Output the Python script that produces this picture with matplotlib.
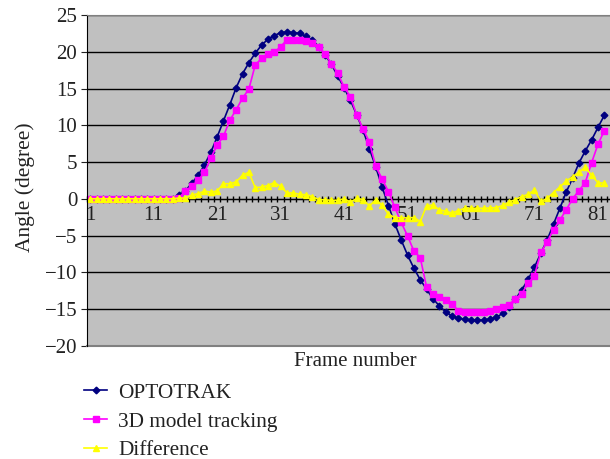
import matplotlib.pyplot as plt
import numpy as np

# frame numbers shown in the picture (the right edge is cut off after 82)
frames = np.arange(1, 83)

optotrak = [0, 0, 0, 0, 0, 0, 0, 0, 0, 0, 0, 0, 0, 0,
            0.5, 1.1, 2.1, 3.2, 4.6, 6.3, 8.4, 10.6, 12.8, 15.1, 17.0, 18.5, 19.8,
            20.9, 21.7, 22.2, 22.6, 22.7, 22.6, 22.5, 22.1,
            21.6, 20.7, 19.6, 18.3, 16.7, 15.1, 13.4, 11.4, 9.3, 6.8, 4.3, 1.6,
            -0.95, -3.4, -5.6, -7.65, -9.45, -11.0, -12.3, -13.6, -14.55, -15.4,
            -15.95, -16.25, -16.4, -16.5, -16.5, -16.5, -16.35, -16.1, -15.6, -14.7,
            -13.65, -12.4, -10.96, -9.3, -7.4, -5.6, -3.45, -1.3, 0.9, 2.8, 4.85,
            6.5, 8.0, 9.7, 11.35]

model = [0, 0, 0, 0, 0, 0, 0, 0, 0, 0, 0, 0, 0, 0,
         0.1, 1.05, 1.7, 2.5, 3.6, 5.5, 7.3, 8.5, 10.7, 12.1, 13.7, 14.9, 18.2,
         19.1, 19.7, 19.9, 20.7, 21.6, 21.6, 21.6, 21.5,
         21.2, 20.6, 19.7, 18.4, 17.1, 15.2, 13.9, 11.4, 9.5, 7.7, 4.4, 2.7,
         0.95, -1.15, -3.2, -5.05, -7.1, -8.0, -12.0, -13.0, -13.3, -13.75,
         -14.35, -15.2, -15.35, -15.4, -15.4, -15.4, -15.3, -15.05, -14.7, -14.4,
         -13.6, -12.9, -11.5, -10.45, -7.3, -5.85, -4.2, -2.9, -1.5, 0.0, 1.1,
         2.2, 4.9, 7.4, 9.25]

difference = [0, 0, 0, 0, 0, 0, 0, 0, 0, 0, 0, 0, 0, 0,
              0.1, 0.1, 0.5, 0.7, 1.05, 0.9, 1.05, 2.05, 2.05, 2.3, 3.2, 3.6, 1.5,
              1.6, 1.8, 2.2, 1.7, 0.8, 0.8, 0.6, 0.55,
              0.3, -0.1, -0.15, -0.2, -0.2, 0.0, -0.45, 0.05, -0.1, -1.0, -0.1, -0.9,
              -2.1, -2.55, -2.6, -2.6, -2.55, -3.1, -0.95, -0.86, -1.5, -1.7,
              -1.95, -1.6, -1.3, -1.3, -1.3, -1.3, -1.25, -1.2, -0.9, -0.45,
              -0.1, 0.3, 0.6, 1.2, -0.35, 0.05, 0.85, 1.6, 2.4, 3.0, 3.6,
              4.3, 3.2, 2.2, 2.1]

label_frames = [1, 11, 21, 31, 41, 51, 61, 71, 81]
y_ticks = [25, 20, 15, 10, 5, 0, -5, -10, -15, -20]
y_tick_labels = ['25', '20', '15', '10', '5', '0', '\u22125', '\u221210',
                 '\u221215', '\u221220']

plt.rcParams['font.family'] = ['Liberation Serif', 'DejaVu Serif']
plt.rcParams['font.size'] = 15

fig = plt.figure(figsize=(6.1, 4.59), dpi=100)
ax = fig.add_axes([87 / 610, 1 - 345.8 / 459, 1 - 87 / 610, (345.8 - 15) / 459])
ax.set_facecolor('#c0c0c0')

# horizontal grid lines
ax.set_yticks(y_ticks)
ax.set_ylim(-20, 25)
ax.yaxis.grid(True, color='black', linewidth=1.0)
ax.set_axisbelow(True)

ax.plot(frames, optotrak, color='#000080', marker='D', markersize=3.4,
        linewidth=1.2, label='OPTOTRAK')
ax.plot(frames, model, color='#ff00ff', marker='s', markersize=4.2,
        linewidth=1.2, label='3D model tracking')
ax.plot(frames, difference, color='#ffff00', marker='^', markersize=4.8,
        linewidth=1.2, label='Difference')

ax.set_xlim(0.5, 82.9)

# category axis sits at y = 0, like the spreadsheet chart
ax.spines['bottom'].set_position(('data', 0))
ax.spines['bottom'].set_color('black')
ax.spines['bottom'].set_zorder(1.5)
ax.spines['left'].set_color('black')
ax.spines['top'].set_color('#808080')
ax.spines['right'].set_visible(False)
ax.axhline(-20, color='#808080', linewidth=1.5, clip_on=False)

ax.set_xticks(label_frames)
ax.set_xticklabels([str(f) for f in label_frames])
ax.set_xticks(np.arange(0.5, 83, 1), minor=True)
ax.tick_params(axis='x', which='major', length=0, pad=5, labelsize=15,
               colors='#222222')
ax.tick_params(axis='x', which='minor', direction='inout', length=5, width=1)
ax.tick_params(axis='y', which='major', length=4, pad=3, labelsize=15,
               colors='#222222')
ax.set_yticklabels(y_tick_labels)

fig.text(25 / 610, 1 - 187 / 459, 'Angle (degree)', rotation=90,
         ha='center', va='center', fontsize=15.5, color='#222222')
fig.text(355 / 610, 1 - 361 / 459, 'Frame number', ha='center', va='center',
         fontsize=15, color='#222222')

fig.legend(loc='upper left', bbox_to_anchor=(84 / 610, 1 - 383 / 459),
           frameon=False, fontsize=15.3, handlelength=1.1, handletextpad=0.5,
           labelspacing=0.42, borderpad=0, borderaxespad=0, labelcolor='#222222')

fig.savefig('out.png', dpi=100, facecolor='white')
